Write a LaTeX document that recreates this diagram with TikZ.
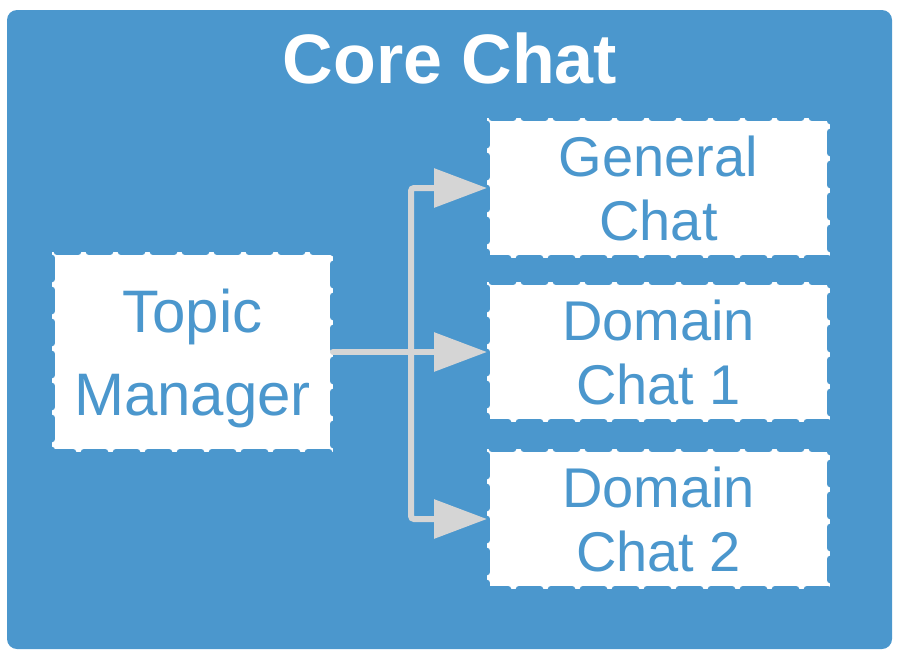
\documentclass[tikz,border=0pt]{standalone}
\usepackage{fontspec}
\setmainfont{Liberation Sans}
\usetikzlibrary{arrows.meta, positioning}
\definecolor{coreblue}{HTML}{4B97CD}
\definecolor{flowgray}{HTML}{D5D5D5}
\begin{document}
\begin{tikzpicture}[x=1pt,y=-1pt,on grid,>={Triangle[length=53pt,width=38pt]},
      every node/.style={inner sep=0pt,outer sep=0pt},
      chat/.style={fill=white,draw=coreblue,line width=6.5pt,line cap=round,dash pattern=on 21pt off 11pt,
        minimum width=343pt,minimum height=140pt,text=coreblue,align=center,font=\fontsize{56}{64}\selectfont},
      flow/.style={draw=flowgray,line width=6pt,line cap=round,rounded corners=3pt}]
  \useasboundingbox (0,0) rectangle (902,662);
  \node[fill=coreblue,rounded corners=10pt,minimum width=885pt,minimum height=639pt] (core) at (449.5,329.5) {};
  \node[anchor=base,text=white,font=\fontsize{70}{84}\selectfont\bfseries] (title) at (450,83) {Core Chat};
  \node[chat,minimum width=281pt,minimum height=200pt,text depth=0pt,font=\fontsize{60}{83}\selectfont] (topic) at (192.5,352) {Topic\\Manager};
  \node[chat] (domain1) [right=466pt of topic] {Domain\\Chat 1};
  \node[chat] (general) [above=164pt of domain1] {General\\Chat};
  \node[chat] (domain2) [below=167pt of domain1] {Domain\\Chat 2};
  \coordinate[right=78pt of topic.east] (bus);
  \draw[flow,->] (topic.east) -- (domain1.west);
  \draw[flow,->] (bus) |- (general.west);
  \draw[flow,->] (bus) |- (domain2.west);
\end{tikzpicture}
\end{document}
